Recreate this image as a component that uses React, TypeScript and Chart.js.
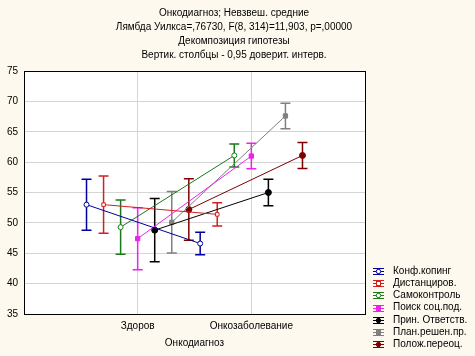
import React, { useEffect, useRef } from "react";
import { Chart, registerables } from "chart.js";

Chart.register(...registerables);

const titleLines = [
  "Онкодиагноз; Невзвеш. средние",
  "Лямбда Уилкса=,76730, F(8, 314)=11,903, p=,00000",
  "Декомпозиция гипотезы",
  "Вертик. столбцы - 0,95 доверит. интерв.",
];
const categories = ["Здоров", "Онкозаболевание"];
const xAxisTitle = "Онкодиагноз";
const seriesNames = [
  "Конф.копинг",
  "Дистанциров.",
  "Самоконтроль",
  "Поиск соц.под.",
  "Прин. Ответств.",
  "План.решен.пр.",
  "Полож.переоц.",
];
// means per series [Здоров, Онкозаболевание]
const meanKonf = [53.0, 46.6];
const meanDist = [53.0, 51.4];
const meanSamo = [49.3, 61.1];
const meanPoisk = [47.4, 61.0];
const meanPrin = [48.8, 55.0];
const meanPlan = [50.1, 67.6];
const meanPolozh = [52.2, 61.1];
// 95% CI half-widths
const ciKonf = [4.2, 1.85];
const ciDist = [4.7, 1.9];
const ciSamo = [4.45, 1.9];
const ciPoisk = [5.1, 2.1];
const ciPrin = [5.2, 2.2];
const ciPlan = [5.05, 2.1];
const ciPolozh = [5.05, 2.15];
const yTicksMin = 35;
const yTicksMax = 75;
const yStep = 5;

const FONT = "'Liberation Sans', Arial, sans-serif";
const colors = ["#0000a0", "#d02020", "#1a7a1a", "#ee22ee", "#000000", "#808080", "#800000"];
const pointStyles = ["circle", "rect", "circle", "rect", "circle", "rect", "circle"];
const filled = [false, false, false, true, true, true, true];
const offsets = [-0.45, -0.3, -0.15, 0, 0.15, 0.3, 0.45];

const means = [meanKonf, meanDist, meanSamo, meanPoisk, meanPrin, meanPlan, meanPolozh];
const cis = [ciKonf, ciDist, ciSamo, ciPoisk, ciPrin, ciPlan, ciPolozh];

const bgPlugin = {
  id: "bg",
  beforeDraw(chart: any) {
    const { ctx, chartArea: a } = chart;
    ctx.save();
    ctx.fillStyle = "#fdf9ee";
    ctx.fillRect(0, 0, chart.width, chart.height);
    ctx.fillStyle = "#ffffff";
    ctx.fillRect(a.left, a.top, a.right - a.left, a.bottom - a.top);
    ctx.restore();
  },
};

const errorBarPlugin = {
  id: "errbars",
  beforeDatasetsDraw(chart: any) {
    const { ctx } = chart;
    const xs = chart.scales.x;
    const ys = chart.scales.y;
    ctx.save();
    chart.data.datasets.forEach((ds: any, i: number) => {
      ctx.strokeStyle = colors[i];
      ctx.lineWidth = 1.5;
      ds.data.forEach((p: any, j: number) => {
        const x = xs.getPixelForValue(p.x);
        const yt = ys.getPixelForValue(means[i][j] + cis[i][j]);
        const yb = ys.getPixelForValue(means[i][j] - cis[i][j]);
        ctx.beginPath();
        ctx.moveTo(x, yt);
        ctx.lineTo(x, yb);
        ctx.moveTo(x - 5, yt);
        ctx.lineTo(x + 5, yt);
        ctx.moveTo(x - 5, yb);
        ctx.lineTo(x + 5, yb);
        ctx.stroke();
      });
    });
    ctx.restore();
  },
};

const framePlugin = {
  id: "frame",
  afterDraw(chart: any) {
    const { ctx, chartArea: a } = chart;
    ctx.save();
    ctx.strokeStyle = "#000";
    ctx.lineWidth = 1;
    ctx.strokeRect(Math.round(a.left) + 0.5, Math.round(a.top) + 0.5, Math.round(a.right - a.left), Math.round(a.bottom - a.top));
    // legend
    const x0 = 373;
    const x1 = 384;
    ctx.font = `10px ${FONT}`;
    ctx.textBaseline = "middle";
    ctx.textAlign = "left";
    seriesNames.forEach((name, i) => {
      const y = 271 + i * 12.2;
      const yy = Math.round(y) + 0.5;
      ctx.strokeStyle = colors[i];
      ctx.lineWidth = 1;
      ctx.beginPath();
      ctx.moveTo(x0, yy - 3);
      ctx.lineTo(x1, yy - 3);
      ctx.moveTo(x0, yy + 3);
      ctx.lineTo(x1, yy + 3);
      ctx.moveTo((x0 + x1) / 2, yy - 3);
      ctx.lineTo((x0 + x1) / 2, yy + 3);
      ctx.moveTo(x0, yy);
      ctx.lineTo(x1, yy);
      ctx.stroke();
      ctx.fillStyle = filled[i] ? colors[i] : "#fff";
      const cx = (x0 + x1) / 2;
      if (pointStyles[i] === "rect") {
        ctx.fillRect(cx - 2, yy - 2, 4, 4);
        ctx.strokeRect(cx - 2, yy - 2, 4, 4);
      } else {
        ctx.beginPath();
        ctx.arc(cx, yy, 2.2, 0, Math.PI * 2);
        ctx.fill();
        ctx.stroke();
      }
      ctx.fillStyle = "#000";
      ctx.fillText(name, 393, y);
    });
    ctx.restore();
  },
};

export default function App() {
  const ref = useRef<HTMLCanvasElement>(null);
  useEffect(() => {
    if (!ref.current) return;
    const datasets = seriesNames.map((name, i) => ({
      label: name,
      data: categories.map((_, j) => ({ x: j + 1 + offsets[i], y: means[i][j] })),
      borderColor: colors[i],
      backgroundColor: filled[i] ? colors[i] : "#ffffff",
      pointBorderColor: colors[i],
      pointBackgroundColor: filled[i] ? colors[i] : "#ffffff",
      pointStyle: pointStyles[i],
      pointRadius: filled[i] ? 3 : 2.5,
      pointBorderWidth: 1,
      borderWidth: 1,
      showLine: true,
      tension: 0,
    }));
    const chart = new Chart(ref.current, {
      type: "scatter",
      data: { datasets },
      plugins: [bgPlugin, errorBarPlugin, framePlugin],
      options: {
        animation: false,
        responsive: false,
        layout: { padding: { left: 0, right: 7, top: 0, bottom: 0 } },
        plugins: {
          legend: { display: false },
          tooltip: { enabled: false },
          title: {
            display: true,
            text: titleLines,
            color: "#000",
            font: { family: FONT, size: 10, weight: "normal", lineHeight: 1.4 },
            padding: { top: 6, bottom: 9 },
          },
        },
        scales: {
          x: {
            type: "linear",
            min: 0,
            max: 3,
            afterBuildTicks: (s: any) => {
              s.ticks = categories.map((_, i) => ({ value: i + 1 }));
            },
            afterFit: (s: any) => {
              s.height = 42;
            },
            ticks: {
              callback: (v: any) => categories[Math.round(v) - 1] ?? "",
              color: "#000",
              font: { family: FONT, size: 10 },
              padding: 6,
              maxRotation: 0,
            },
            grid: { color: "#d4d4d4", drawTicks: false },
            border: { display: false },
            title: {
              display: true,
              text: xAxisTitle,
              color: "#000",
              font: { family: FONT, size: 10 },
              padding: { top: 0, bottom: 7 },
            },
          },
          y: {
            min: yTicksMin,
            max: yTicksMax,
            afterFit: (s: any) => {
              s.width = 24;
            },
            ticks: {
              stepSize: yStep,
              color: "#000",
              font: { family: FONT, size: 10 },
              padding: 6,
            },
            grid: { color: "#d4d4d4", drawTicks: false },
            border: { display: false },
          },
          legendSpace: {
            type: "linear",
            position: "right",
            afterFit: (s: any) => {
              s.width = 103;
            },
            ticks: { display: false },
            grid: { display: false, drawTicks: false },
            border: { display: false },
          },
        },
      } as any,
    });
    return () => chart.destroy();
  }, []);
  return (
    <div style={{ position: "fixed", left: 0, top: 0, width: 475, height: 356 }}>
      <canvas ref={ref} width={475} height={356} style={{ display: "block" }} />
    </div>
  );
}
